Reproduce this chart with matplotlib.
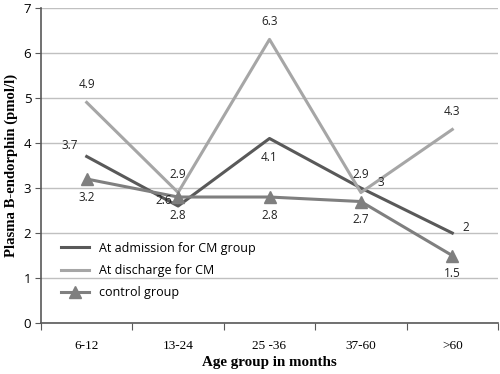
import matplotlib.pyplot as plt

ages = ["6-12", "13-24", "25 -36", "37-60", ">60"]
admission = [3.7, 2.6, 4.1, 3, 2]
discharge = [4.9, 2.9, 6.3, 2.9, 4.3]
control = [3.2, 2.8, 2.8, 2.7, 1.5]

fig = plt.figure(figsize=(5, 3.74), dpi=100)
ax = fig.add_axes([0.082, 0.136, 0.914, 0.843])

x = range(len(ages))
ax.plot(x, admission, color="#595959", lw=2.2, label="At admission for CM group")
ax.plot(x, discharge, color="#a6a6a6", lw=2.2, label="At discharge for CM")
ax.plot(x, control, color="#7f7f7f", lw=2.2, marker="^", ms=8, label="control group")

lab = dict(fontsize=8.5, family="Open Sans", color="#222222")
# admission labels
adm_off = [(-12, 8), (-10, 4), (0, -14), (14, 4), (10, 4)]
for i, v in enumerate(admission):
    ax.annotate(f"{v:g}", (i, v), xytext=adm_off[i], textcoords="offset points",
                ha="center", va="center", **lab)
for i, v in enumerate(discharge):
    ax.annotate(f"{v:g}", (i, v), xytext=(0, 13), textcoords="offset points",
                ha="center", va="center", **lab)
for i, v in enumerate(control):
    ax.annotate(f"{v:g}", (i, v), xytext=(0, -13), textcoords="offset points",
                ha="center", va="center", **lab)

ax.set_xlim(-0.5, 4.5)
ax.set_ylim(0, 7)
ax.set_xticks([i - 0.5 for i in range(6)], minor=False)
ax.set_xticklabels([])
ax.set_xticks(list(x), minor=True)
ax.set_xticklabels(ages, minor=True, family="Liberation Serif", fontsize=9.5)
ax.tick_params(axis="x", which="minor", length=0, pad=12)
ax.tick_params(axis="x", which="major", length=5, color="#595959", direction="out")
ax.set_yticks(range(8))
ax.tick_params(axis="y", length=4, color="#595959", labelsize=9.5, pad=3)
for t in ax.get_yticklabels():
    t.set_family("Open Sans")

ax.grid(axis="y", color="#c0c0c0", lw=1)
ax.set_axisbelow(True)
for s in ["top", "right"]:
    ax.spines[s].set_visible(False)
ax.spines["left"].set_color("#595959")
ax.spines["bottom"].set_color("#595959")
ax.spines["left"].set_linewidth(1.2)
ax.spines["bottom"].set_linewidth(1.2)

ax.set_xlabel("Age group in months", family="Liberation Serif", fontweight="bold", fontsize=10.8, labelpad=3)
ax.set_ylabel("Plasma B-endorphin (pmol/l)", family="Liberation Serif", fontweight="bold", fontsize=10.6, labelpad=4)

ax.legend(loc="lower left", bbox_to_anchor=(0.02, 0.04), frameon=False,
          prop={"family": "Open Sans", "size": 9}, handlelength=2.2, labelspacing=0.75)

fig.savefig("out.png", dpi=100)
